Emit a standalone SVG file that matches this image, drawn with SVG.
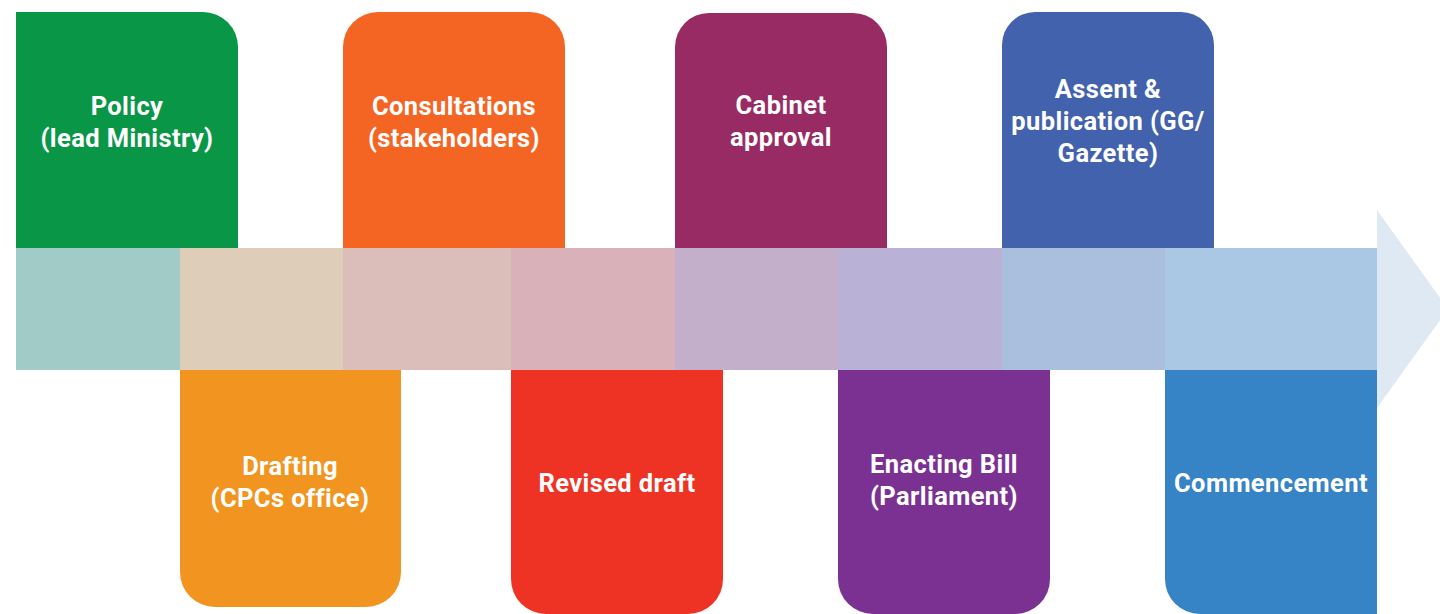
<svg xmlns="http://www.w3.org/2000/svg" width="1440" height="614" viewBox="0 0 1440 614">
  <style>
    .label { font-family: Roboto, "Liberation Sans", sans-serif; font-weight: 700; font-size: 25.5px; fill: #ffffff; text-anchor: middle; letter-spacing: 0.4px; }
  </style>
  <rect width="1440" height="614" fill="#ffffff"/>

  <!-- upper steps -->
  <g id="policy">
    <path d="M16 12 H203 A35 35 0 0 1 238 47 V250 H16 Z" fill="#0a9647"/>
    <text class="label" x="127" y="115">Policy</text>
    <text class="label" x="127" y="147">(lead Ministry)</text>
  </g>
  <g id="consultations">
    <path d="M378 12 H530 A35 35 0 0 1 565 47 V250 H343 V47 A35 35 0 0 1 378 12 Z" fill="#f46524"/>
    <text class="label" x="454" y="115">Consultations</text>
    <text class="label" x="454" y="147">(stakeholders)</text>
  </g>
  <g id="cabinet">
    <path d="M709 13 H853 A34 34 0 0 1 887 47 V250 H675 V47 A34 34 0 0 1 709 13 Z" fill="#982a64"/>
    <text class="label" x="781" y="114">Cabinet</text>
    <text class="label" x="781" y="146">approval</text>
  </g>
  <g id="assent">
    <path d="M1035 12 H1181 A33 33 0 0 1 1214 45 V250 H1002 V45 A33 33 0 0 1 1035 12 Z" fill="#4262ad"/>
    <text class="label" x="1108" y="98">Assent &amp;</text>
    <text class="label" x="1108" y="130">publication (GG/</text>
    <text class="label" x="1108" y="162">Gazette)</text>
  </g>

  <!-- lower steps -->
  <g id="drafting">
    <path d="M180 368 H401 V572 A35 35 0 0 1 366 607 H215 A35 35 0 0 1 180 572 Z" fill="#f19420"/>
    <text class="label" x="290" y="475">Drafting</text>
    <text class="label" x="290" y="507">(CPCs office)</text>
  </g>
  <g id="revised-draft">
    <path d="M511 368 H723 V579 A35 35 0 0 1 688 614 H546 A35 35 0 0 1 511 579 Z" fill="#ee3324"/>
    <text class="label" x="617" y="492">Revised draft</text>
  </g>
  <g id="enacting-bill">
    <path d="M838 368 H1050 V579 A35 35 0 0 1 1015 614 H873 A35 35 0 0 1 838 579 Z" fill="#7b3192"/>
    <text class="label" x="944" y="473">Enacting Bill</text>
    <text class="label" x="944" y="505">(Parliament)</text>
  </g>
  <g id="commencement">
    <path d="M1165 368 H1377 V614 H1200 A35 35 0 0 1 1165 579 Z" fill="#3683c5"/>
    <text class="label" x="1271" y="492">Commencement</text>
  </g>

  <!-- timeline band with arrowhead -->
  <g id="connectors">
    <polygon points="1377,210 1448,309 1377,408" fill="#dfe9f3"/>
    <rect x="16" y="248" width="164" height="122" fill="#a1cbc6"/>
    <rect x="180" y="248" width="163" height="122" fill="#ddcdb9"/>
    <rect x="343" y="248" width="168" height="122" fill="#dbbeb9"/>
    <rect x="511" y="248" width="164" height="122" fill="#d9b1b8"/>
    <rect x="675" y="248" width="163" height="122" fill="#c4afca"/>
    <rect x="838" y="248" width="164" height="122" fill="#bab1d6"/>
    <rect x="1002" y="248" width="163" height="122" fill="#aabedd"/>
    <rect x="1165" y="248" width="212" height="122" fill="#aac7e4"/>
  </g>
</svg>
